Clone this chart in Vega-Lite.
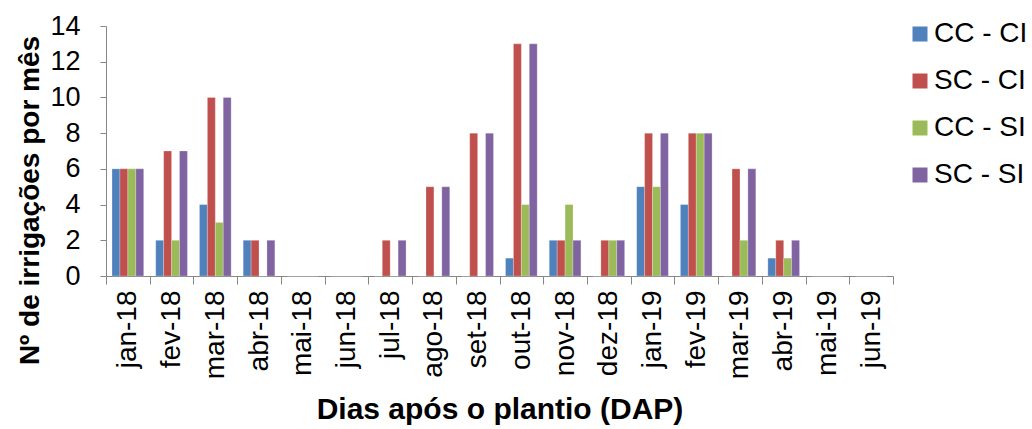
{
  "$schema": "https://vega.github.io/schema/vega-lite/v6.json",
  "autosize": "none",
  "width": 787,
  "height": 250,
  "padding": {"left": 106, "top": 26, "right": 139, "bottom": 153},
  "background": "white",
  "config": {
    "view": {"stroke": null},
    "font": "Liberation Sans",
    "axis": {"grid": false, "domainColor": "#868686", "tickColor": "#868686", "labelColor": "black", "titleColor": "black", "labelFont": "Liberation Sans", "titleFont": "Liberation Sans"},
    "legend": {"labelFont": "Liberation Sans"}
  },
  "data": {"values": [
    {"mes": "jan-18", "trat": "CC - CI", "n": 6}, {"mes": "jan-18", "trat": "SC - CI", "n": 6}, {"mes": "jan-18", "trat": "CC - SI", "n": 6}, {"mes": "jan-18", "trat": "SC - SI", "n": 6},
    {"mes": "fev-18", "trat": "CC - CI", "n": 2}, {"mes": "fev-18", "trat": "SC - CI", "n": 7}, {"mes": "fev-18", "trat": "CC - SI", "n": 2}, {"mes": "fev-18", "trat": "SC - SI", "n": 7},
    {"mes": "mar-18", "trat": "CC - CI", "n": 4}, {"mes": "mar-18", "trat": "SC - CI", "n": 10}, {"mes": "mar-18", "trat": "CC - SI", "n": 3}, {"mes": "mar-18", "trat": "SC - SI", "n": 10},
    {"mes": "abr-18", "trat": "CC - CI", "n": 2}, {"mes": "abr-18", "trat": "SC - CI", "n": 2}, {"mes": "abr-18", "trat": "CC - SI", "n": 0}, {"mes": "abr-18", "trat": "SC - SI", "n": 2},
    {"mes": "mai-18", "trat": "CC - CI", "n": 0}, {"mes": "mai-18", "trat": "SC - CI", "n": 0}, {"mes": "mai-18", "trat": "CC - SI", "n": 0}, {"mes": "mai-18", "trat": "SC - SI", "n": 0},
    {"mes": "jun-18", "trat": "CC - CI", "n": 0}, {"mes": "jun-18", "trat": "SC - CI", "n": 0}, {"mes": "jun-18", "trat": "CC - SI", "n": 0}, {"mes": "jun-18", "trat": "SC - SI", "n": 0},
    {"mes": "jul-18", "trat": "CC - CI", "n": 0}, {"mes": "jul-18", "trat": "SC - CI", "n": 2}, {"mes": "jul-18", "trat": "CC - SI", "n": 0}, {"mes": "jul-18", "trat": "SC - SI", "n": 2},
    {"mes": "ago-18", "trat": "CC - CI", "n": 0}, {"mes": "ago-18", "trat": "SC - CI", "n": 5}, {"mes": "ago-18", "trat": "CC - SI", "n": 0}, {"mes": "ago-18", "trat": "SC - SI", "n": 5},
    {"mes": "set-18", "trat": "CC - CI", "n": 0}, {"mes": "set-18", "trat": "SC - CI", "n": 8}, {"mes": "set-18", "trat": "CC - SI", "n": 0}, {"mes": "set-18", "trat": "SC - SI", "n": 8},
    {"mes": "out-18", "trat": "CC - CI", "n": 1}, {"mes": "out-18", "trat": "SC - CI", "n": 13}, {"mes": "out-18", "trat": "CC - SI", "n": 4}, {"mes": "out-18", "trat": "SC - SI", "n": 13},
    {"mes": "nov-18", "trat": "CC - CI", "n": 2}, {"mes": "nov-18", "trat": "SC - CI", "n": 2}, {"mes": "nov-18", "trat": "CC - SI", "n": 4}, {"mes": "nov-18", "trat": "SC - SI", "n": 2},
    {"mes": "dez-18", "trat": "CC - CI", "n": 0}, {"mes": "dez-18", "trat": "SC - CI", "n": 2}, {"mes": "dez-18", "trat": "CC - SI", "n": 2}, {"mes": "dez-18", "trat": "SC - SI", "n": 2},
    {"mes": "jan-19", "trat": "CC - CI", "n": 5}, {"mes": "jan-19", "trat": "SC - CI", "n": 8}, {"mes": "jan-19", "trat": "CC - SI", "n": 5}, {"mes": "jan-19", "trat": "SC - SI", "n": 8},
    {"mes": "fev-19", "trat": "CC - CI", "n": 4}, {"mes": "fev-19", "trat": "SC - CI", "n": 8}, {"mes": "fev-19", "trat": "CC - SI", "n": 8}, {"mes": "fev-19", "trat": "SC - SI", "n": 8},
    {"mes": "mar-19", "trat": "CC - CI", "n": 0}, {"mes": "mar-19", "trat": "SC - CI", "n": 6}, {"mes": "mar-19", "trat": "CC - SI", "n": 2}, {"mes": "mar-19", "trat": "SC - SI", "n": 6},
    {"mes": "abr-19", "trat": "CC - CI", "n": 1}, {"mes": "abr-19", "trat": "SC - CI", "n": 2}, {"mes": "abr-19", "trat": "CC - SI", "n": 1}, {"mes": "abr-19", "trat": "SC - SI", "n": 2},
    {"mes": "mai-19", "trat": "CC - CI", "n": 0}, {"mes": "mai-19", "trat": "SC - CI", "n": 0}, {"mes": "mai-19", "trat": "CC - SI", "n": 0}, {"mes": "mai-19", "trat": "SC - SI", "n": 0},
    {"mes": "jun-19", "trat": "CC - CI", "n": 0}, {"mes": "jun-19", "trat": "SC - CI", "n": 0}, {"mes": "jun-19", "trat": "CC - SI", "n": 0}, {"mes": "jun-19", "trat": "SC - SI", "n": 0}
  ]},
  "mark": {"type": "bar", "stroke": "white", "strokeWidth": 0.4, "strokeOpacity": 0.6},
  "encoding": {
    "x": {
      "field": "mes", "type": "nominal", "sort": null,
      "scale": {"paddingInner": 0, "paddingOuter": 0},
      "axis": {
        "title": "Dias após o plantio (DAP)", "titleFontSize": 30, "titleFontWeight": "bold", "titlePadding": 16,
        "labelAngle": -90, "labelFontSize": 28, "labelPadding": 6, "tickBand": "extent", "tickSize": 8
      }
    },
    "xOffset": {"field": "trat", "type": "nominal", "sort": ["CC - CI", "SC - CI", "CC - SI", "SC - SI"], "scale": {"paddingInner": 0, "paddingOuter": 0.76}},
    "y": {
      "field": "n", "type": "quantitative",
      "scale": {"domain": [0, 14], "nice": false},
      "axis": {"title": "Nº de irrigações por mês", "titleFontSize": 28, "titleFontWeight": "bold", "titlePadding": 5, "titleY": 174, "values": [0, 2, 4, 6, 8, 10, 12, 14], "labelFontSize": 27, "tickSize": 6, "labelPadding": 20}
    },
    "color": {
      "field": "trat", "type": "nominal",
      "sort": ["CC - CI", "SC - CI", "CC - SI", "SC - SI"],
      "scale": {"domain": ["CC - CI", "SC - CI", "CC - SI", "SC - SI"], "range": ["#4F81BD", "#C0504D", "#9BBB59", "#8064A2"]},
      "legend": {"title": null, "orient": "none", "legendX": 800, "legendY": -6, "padding": 0, "symbolType": "square", "symbolSize": 225, "symbolStrokeWidth": 0, "labelFontSize": 28, "labelOffset": 0, "rowPadding": 19, "labelColor": "black"}
    }
  }
}
